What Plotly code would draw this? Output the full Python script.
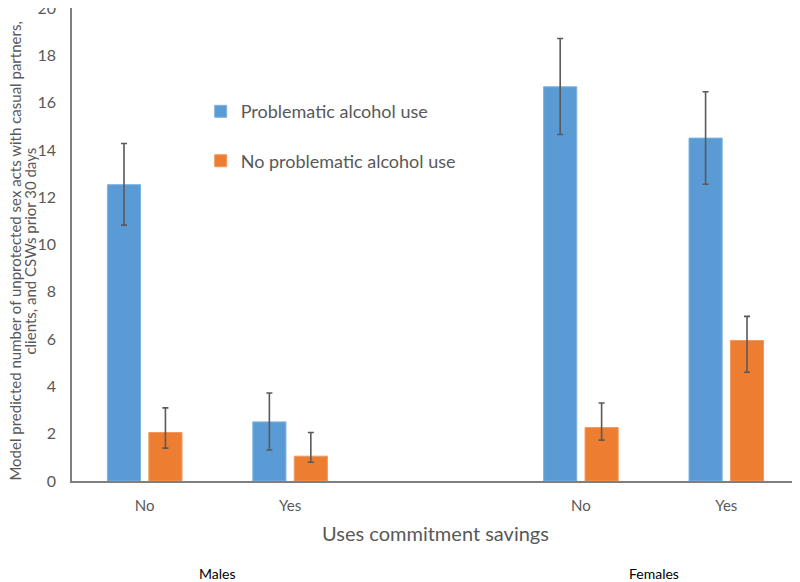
import plotly.graph_objects as go

# ---- data ----
sex_groups = ["Males", "Males", "Females", "Females"]
savings = ["No", "Yes", "No", "Yes"]

problematic = [12.53, 2.50, 16.67, 14.50]
problematic_upper = [14.27, 3.72, 18.71, 16.46]
problematic_lower = [10.82, 1.31, 14.65, 12.55]

no_problematic = [2.05, 1.05, 2.26, 5.94]
no_problematic_upper = [3.09, 2.05, 3.30, 6.96]
no_problematic_lower = [1.39, 0.79, 1.73, 4.60]

series_names = ["Problematic alcohol use", "No problematic alcohol use"]
y_ticks = [0, 2, 4, 6, 8, 10, 12, 14, 16, 18, 20]
y_title_lines = ["Model predicted number of unprotected sex acts with casual partners,",
                 "clients, and CSWs prior 30 days"]
x_title = "Uses commitment savings"

# category keys (with an empty spacer category between the sexes)
keys = [f"{g} {s}" for g, s in zip(sex_groups, savings)]
spacer = " "
category_order = keys[:2] + [spacer] + keys[2:]

BLUE = "#5B9BD5"
ORANGE = "#ED7D31"
GREY = "#595959"
FONT = "Lato, 'Open Sans', sans-serif"


def err(vals, up, lo):
    return dict(
        type="data",
        symmetric=False,
        array=[u - v for u, v in zip(up, vals)],
        arrayminus=[v - l for v, l in zip(vals, lo)],
        color=GREY,
        thickness=1.6,
        width=3,
    )


fig = go.Figure()
fig.add_trace(go.Bar(
    x=keys, y=problematic, name=series_names[0],
    marker=dict(color=BLUE, line=dict(color="#7fb2e0", width=1)),
    error_y=err(problematic, problematic_upper, problematic_lower),
    legendgroup="a",
))
fig.add_trace(go.Bar(
    x=keys, y=no_problematic, name=series_names[1],
    marker=dict(color=ORANGE, line=dict(color="#f29a5e", width=1)),
    error_y=err(no_problematic, no_problematic_upper, no_problematic_lower),
    legendgroup="b",
))

fig.update_layout(
    width=792, height=574,
    margin=dict(l=64, r=1, t=0, b=101),
    paper_bgcolor="white", plot_bgcolor="white",
    barmode="group", bargap=0.43, bargroupgap=0.2,
    font=dict(family=FONT, color=GREY),
    showlegend=True,
    legend=dict(
        x=0.177, y=0.82, xanchor="left", yanchor="top",
        bgcolor="rgba(0,0,0,0)",
        font=dict(size=18, color=GREY, family=FONT),
        tracegroupgap=23,
        itemwidth=30,
    ),
    xaxis=dict(
        type="category",
        categoryorder="array", categoryarray=category_order,
        range=[-0.5, 4.5],
        tickvals=keys, ticktext=savings,
        tickfont=dict(size=15, color=GREY),
        ticks="", ticklen=0, automargin=False, ticklabelstandoff=10,
        showline=True, linecolor="#7f7f7f", linewidth=1.5,
        showgrid=False, zeroline=False,
        title=dict(text=x_title, font=dict(size=20, color=GREY), standoff=14),
    ),
    yaxis=dict(
        range=[0, 20], tickvals=y_ticks,
        tickfont=dict(size=16, color=GREY),
        showline=True, linecolor="#7f7f7f", linewidth=1.5,
        showgrid=False, zeroline=False, automargin=False,
        ticks="", ticklabelstandoff=11, ticklabeloverflow="allow",
    ),
)

# y-axis title: two rotated lines
for line, shift in zip(y_title_lines, [-57, -42]):
    fig.add_annotation(
        x=0, y=0.485, xref="paper", yref="paper", xshift=shift,
        xanchor="center", yanchor="middle", textangle=-90,
        text=line, showarrow=False, borderpad=0,
        font=dict(size=15, color=GREY, family=FONT),
    )

# sex group labels under the axis title
for grp in ["Males", "Females"]:
    members = [k for k, g in zip(keys, sex_groups) if g == grp]
    idx = [category_order.index(m) for m in members]
    fig.add_annotation(
        x=sum(idx) / len(idx), y=0, xref="x", yref="paper",
        yshift=-92, yanchor="middle", text=grp, showarrow=False,
        font=dict(size=14, color="black", family=FONT),
    )

fig.write_html("out.html")
